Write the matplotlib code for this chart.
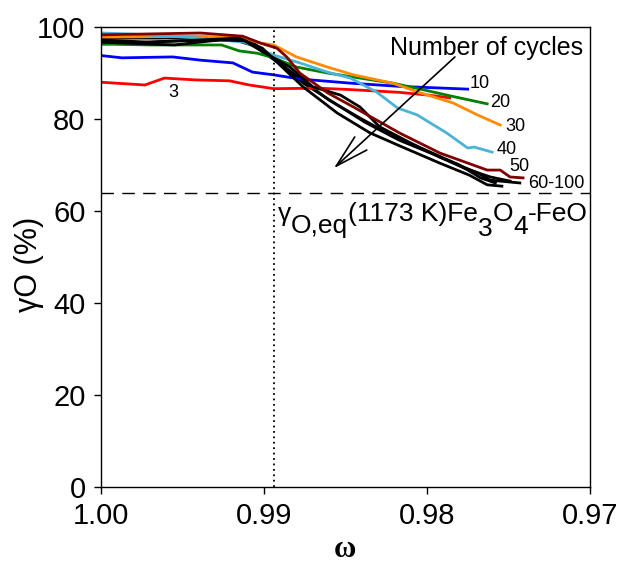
import numpy as np
import matplotlib.pyplot as plt
from matplotlib.ticker import FormatStrFormatter

plt.rcParams['font.family'] = ['Liberation Sans', 'DejaVu Sans']

# Datos (omega, gamma_O en %)
w_3 = [1.0, 0.9973, 0.9961, 0.9942, 0.9921, 0.9909, 0.9894, 0.9866, 0.9847, 0.9817, 0.9799, 0.9786]
g_3 = [88.0, 87.4, 88.9, 88.5, 88.3, 87.4, 86.6, 86.7, 86.4, 85.8, 85.2, 84.6]

w_10 = [1.0, 0.9987, 0.9956, 0.9939, 0.9919, 0.9907, 0.9894, 0.9878, 0.9847, 0.9817, 0.9775]
g_10 = [93.8, 93.3, 93.5, 92.8, 92.2, 90.2, 89.6, 88.7, 87.8, 87.1, 86.5]

w_20 = [1.0, 0.9970, 0.9926, 0.9915, 0.9904, 0.9894, 0.9880, 0.9861, 0.9841, 0.9821, 0.9804, 0.9784, 0.9763]
g_20 = [96.3, 96.1, 96.1, 94.8, 94.3, 93.3, 91.3, 90.0, 88.9, 87.8, 86.5, 84.9, 83.3]

w_30 = [1.0, 0.9939, 0.9915, 0.9902, 0.9894, 0.9880, 0.9861, 0.9845, 0.9821, 0.9804, 0.9784, 0.9769, 0.9755]
g_30 = [97.8, 98.0, 97.6, 96.5, 96.1, 93.5, 91.3, 89.6, 87.8, 85.7, 83.5, 80.9, 78.7]

w_40 = [1.0, 0.9982, 0.9939, 0.9912, 0.9894, 0.9878, 0.9861, 0.9847, 0.9831, 0.9818, 0.9806, 0.9788, 0.9775, 0.9771, 0.9760]
g_40 = [98.7, 98.5, 97.6, 96.7, 93.9, 92.2, 90.2, 88.9, 85.9, 82.4, 80.9, 77.0, 73.7, 73.9, 72.8]

w_50 = [1.0, 0.9939, 0.9913, 0.9902, 0.9892, 0.9886, 0.9878, 0.9861, 0.9845, 0.9831, 0.9817, 0.9792, 0.9763, 0.9755, 0.9749, 0.9741]
g_50 = [98.3, 98.7, 98.0, 96.5, 95.4, 93.5, 90.0, 85.7, 82.6, 79.8, 77.0, 72.6, 68.9, 68.9, 67.4, 67.2]

# ciclos 60-100 (curvas negras)
w_b1 = [1.0, 0.9970, 0.9939, 0.9915, 0.9901, 0.9890, 0.9876, 0.9855, 0.9835, 0.9815, 0.9792, 0.9774, 0.9763, 0.9754]
g_b1 = [97.2, 96.7, 97.2, 97.6, 95.4, 91.7, 87.0, 81.3, 77.0, 73.9, 70.4, 67.8, 65.7, 65.4]
w_b2 = [1.0, 0.9955, 0.9927, 0.9912, 0.9899, 0.9884, 0.9870, 0.9853, 0.9841, 0.9829, 0.9810, 0.9792, 0.9769, 0.9761, 0.9743]
g_b2 = [96.7, 96.1, 97.2, 97.0, 94.3, 91.3, 87.0, 85.2, 82.6, 78.3, 74.8, 71.7, 68.3, 66.7, 66.1]
w_b3 = [1.0, 0.9964, 0.9921, 0.9907, 0.9893, 0.9878, 0.9860, 0.9841, 0.9820, 0.9798, 0.9780, 0.9767, 0.9758]
g_b3 = [97.6, 97.6, 97.8, 96.7, 92.8, 88.9, 84.1, 80.2, 76.1, 72.8, 70.0, 67.2, 66.1]
w_b4 = [1.0, 0.9952, 0.9918, 0.9906, 0.9891, 0.9875, 0.9856, 0.9838, 0.9817, 0.9795, 0.9777, 0.9761, 0.9749]
g_b4 = [96.3, 97.0, 97.2, 95.9, 92.2, 87.6, 83.3, 79.3, 75.4, 72.2, 69.3, 67.4, 66.5]

# etiquetas de las curvas
etiquetas = ['3', '10', '20', '30', '40', '50', '60-100']
w_etq = [0.99558, 0.97736, 0.97614, 0.97521, 0.97571, 0.97497, 0.97380]
g_etq = [85.7, 87.8, 83.5, 78.3, 73.3, 69.6, 65.9]

g_eq = 64.0       # linea discontinua
w_vert = 0.9894   # linea punteada

fig = plt.figure(figsize=(6.19, 5.63), dpi=100)
ax = fig.add_axes([0.163, 0.135, 0.79, 0.817])

lw = 2.0
ax.plot(w_b4, g_b4, color='black', lw=lw)
ax.plot(w_b3, g_b3, color='black', lw=lw)
ax.plot(w_3, g_3, color='#ff0000', lw=lw)
ax.plot(w_10, g_10, color='#0000ff', lw=lw)
ax.plot(w_20, g_20, color='#008000', lw=lw)
ax.plot(w_30, g_30, color='#ff8c00', lw=lw)
ax.plot(w_40, g_40, color='#4bb3d6', lw=lw)
ax.plot(w_b1, g_b1, color='black', lw=lw)
ax.plot(w_b2, g_b2, color='black', lw=lw)
ax.plot(w_50, g_50, color='#800000', lw=lw)

ax.axhline(g_eq, color='black', lw=1.0, ls=(0, (9, 6)), clip_on=False)
ax.axvline(w_vert, color='black', lw=1.3, ls=(0, (1, 2)))

for s, x, y in zip(etiquetas, w_etq, g_etq):
    ha = 'center' if s == '3' else 'left'
    ax.text(x, y, s, fontsize=13, ha=ha, va='center')

ax.text(0.97043, 93.9, 'Number of cycles', fontsize=18, ha='right', va='baseline')
ax.annotate('', xy=(0.98571, 69.3), xytext=(0.97828, 93.5),
            arrowprops=dict(arrowstyle='->,head_length=1.2,head_width=0.32',
                            lw=1.2, color='black', mutation_scale=20,
                            shrinkA=0, shrinkB=0))

# texto con subindices / superindices
piezas = [('γ', 0), ('O,eq', -8.6), ('(1173 K)Fe', 0), ('3', -10.8),
          ('O', 0), ('4', -9.4), ('-FeO', 0)]
t = ax.text(0.98914, 57.8, piezas[0][0], fontsize=19, ha='left', va='baseline')
dy_prev = piezas[0][1]
for s, dy in piezas[1:]:
    t = ax.annotate(s, xy=(1, 0), xycoords=t, xytext=(0, dy - dy_prev),
                    textcoords='offset points', fontsize=19, ha='left', va='bottom')
    dy_prev = dy

ax.set_xlim(1.0, 0.97)
ax.set_ylim(0, 100)
ax.set_xticks([1.0, 0.99, 0.98, 0.97])
ax.set_yticks([0, 20, 40, 60, 80, 100])
ax.xaxis.set_major_formatter(FormatStrFormatter('%.2f'))
ax.tick_params(direction='out', length=5, width=1.0, labelsize=21, pad=6)
for sp in ax.spines.values():
    sp.set_linewidth(1.0)

ax.set_ylabel('γO (%)', fontsize=22)
ax.yaxis.set_label_coords(-0.117, 0.483)
ax.set_xlabel('ω', fontsize=22, family='Liberation Serif', fontweight='bold')
ax.xaxis.set_label_coords(0.499, -0.105)

fig.savefig('out.png', dpi=100)
